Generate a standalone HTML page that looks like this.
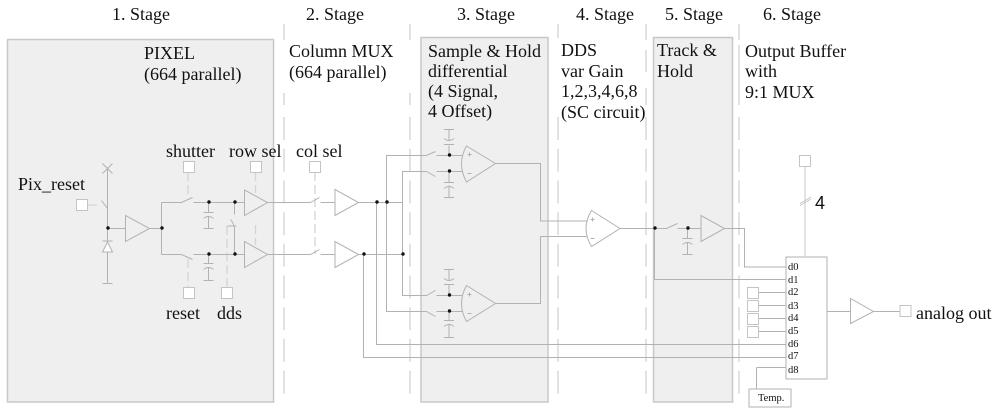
<!DOCTYPE html>
<html><head><meta charset="utf-8"><style>
html,body{margin:0;padding:0;background:#fff}
svg{display:block}
text{font-family:"Liberation Serif",serif;font-size:18px;fill:#111}
.s{font-size:10.5px}
</style></head><body>
<svg width="1000" height="414" viewBox="0 0 1000 414" xmlns="http://www.w3.org/2000/svg">
<g fill="#efefef" stroke="#c8c8c8" stroke-width="1.5">
<rect x="7.5" y="39.5" width="266" height="362.500"/>
<rect x="421" y="37.5" width="127" height="364.500"/>
<rect x="653.5" y="37.5" width="79" height="364.500"/>
</g>
<g stroke="#cfcfcf" stroke-width="1.2" fill="none">
<path d="M284 24V40M284 93V105M410 24V40M410 93V105M558 24V38M646 24V40M646 50V72M646 88V105M739 24V40M739 45V105"/>
<g stroke-dasharray="23 8.700">
<path d="M284 117V396M410 117V396M558 117V396M646 117V396M739 117V396"/>
</g>
</g>
<g stroke="#d4d4d4" stroke-width="1.3" fill="none" stroke-dasharray="9 4">
<path d="M88 205H101M188 172V197M188 259V287M227 287V226M255.500 172V193M255.500 225V245M315 172V254"/>
</g>
<path d="M805 166V256" stroke="#dedede" stroke-width="1.6"/>
<path d="M800 203.500L811 197M800 205.500L811 199" stroke="#c4c4c4" fill="none"/>
<g stroke="#b2b2b2" stroke-width="1" fill="none" transform="translate(-.5,.5)">
<path d="M103 163L113 173M113 163L103 173M108 168V283M103 283H113M103 240.500H113"/>
<path d="M102 200L108 208" />
<path d="M103 251.500H113L108 241.500Z" fill="#fff"/>
<path d="M108 228H126M126 215V241L150 228ZM150 228H162M162 202V254M162 202H182L193 197M194 202H245M162 254H182L193 259M194 254H245"/>
<path d="M245 189.500V215L268 202ZM245 241V267L268 254Z"/>
<path d="M209 202V212M204 212H214M204 218Q209 214 214 218M209 216V228M204 228H214"/>
<path d="M209 254V263M204 263H214M204 269Q209 265 214 269M209 267V280M204 280H214"/>
<path d="M235 254V228Q235 224 231 219M228 225.500H237M235 202V214"/>
<path d="M268 202H311L320 197M321 202H335M335.500 189V215L359 202ZM359 202H403"/>
<path d="M268 254H311L320 249M321 254H335M335.500 241V267L359 254ZM359 254H403"/>
<path d="M377 202V344H787M364 254V357H787M387 202V311H427L436 316M403 202V295H427L436 290"/>
<path d="M387 202V155H427L436 151M403 202V171H427L436 176"/>
<path d="M437 155H463M437 171H463M437 295H463M437 311H463"/>
<path d="M449.500 155V145M444.500 144H454.500M444.500 138Q449.500 142 454.500 138M449.500 140V129M444.500 129H454.500"/>
<path d="M449.500 171V182M444.500 182H454.500M444.500 188Q449.500 184 454.500 188M449.500 185V197M444.500 197H454.500"/>
<path d="M449.500 295V284M444.500 284H454.500M444.500 278Q449.500 282 454.500 278M449.500 280V269M444.500 269H454.500"/>
<path d="M449.500 311V320M444.500 320H454.500M444.500 326Q449.500 322 454.500 326M449.500 323V337M444.500 337H454.500"/>
<path d="M467 145.500L496 163L467 181.500Q457 163 467 145.500Z"/>
<path d="M467 285L496 303L467 321Q457 303 467 285Z"/>
<path d="M468 154H472M470 152V156M468 173H472M468 294H472M470 292V296M468 313H472M591 219H595M593 217V221M591 238H595"/>
<path d="M496 163H541V220.500H587M496 303H541V236H587"/>
<path d="M592 210L620.500 228L592 246Q581 228 592 210Z"/>
<path d="M620.500 228H667L678 223M678 228H701.500M701.500 215V241L725 228ZM725 228H745V266.500H787"/>
<path d="M655 228V279H787"/>
<path d="M688 228V238M683 238H693M683 244Q688 240 693 244M688 242V254M683 254H693"/>
<rect x="786.500" y="256.500" width="41" height="122" fill="#fff"/>
<path d="M758 292H786M758 305H786M758 318H786M758 331H786M757 367H786M757 367V388"/>
<rect x="749.500" y="388.500" width="42" height="18" fill="#fff"/>
<path d="M828 311H851M851 298V323L874 311ZM874 311H900"/>
</g>
<g fill="#fff" stroke="#c4c4c4" stroke-width="1">
<rect x="76.500" y="199.500" width="11" height="11"/>
<rect x="183.500" y="161.500" width="11" height="11"/>
<rect x="250.500" y="161.500" width="11" height="11"/>
<rect x="183.500" y="287.500" width="11" height="11"/>
<rect x="221.500" y="287.500" width="11" height="11"/>
<rect x="309.500" y="161.500" width="11" height="11"/>
<rect x="799.500" y="155.500" width="11" height="11"/>
<rect x="747.500" y="287.500" width="11" height="11"/>
<rect x="747.500" y="300.500" width="11" height="11"/>
<rect x="747.500" y="313.500" width="11" height="11"/>
<rect x="747.500" y="326.500" width="11" height="11"/>
<rect x="900" y="305.500" width="11" height="11"/>
</g>
<g fill="#111">
<circle cx="108" cy="228" r="1.700"/><circle cx="162" cy="228" r="1.700"/>
<circle cx="209" cy="202" r="1.700"/><circle cx="235" cy="202" r="1.700"/>
<circle cx="209" cy="254" r="1.700"/><circle cx="235" cy="254" r="1.700"/>
<circle cx="377" cy="202" r="1.700"/><circle cx="387" cy="202" r="1.700"/>
<circle cx="364" cy="254" r="1.700"/><circle cx="403" cy="254" r="1.700"/>
<circle cx="449.500" cy="155" r="1.700"/><circle cx="449.500" cy="171" r="1.700"/>
<circle cx="449.500" cy="295" r="1.700"/><circle cx="449.500" cy="311" r="1.700"/>
<circle cx="655" cy="228" r="1.700"/><circle cx="688" cy="228" r="1.700"/>
</g>
<text x="112" y="20">1. Stage</text>
<text x="306" y="20">2. Stage</text>
<text x="457" y="20">3. Stage</text>
<text x="576" y="20">4. Stage</text>
<text x="665" y="20">5. Stage</text>
<text x="763" y="20">6. Stage</text>
<text x="144" y="59">PIXEL</text>
<text x="144" y="80">(664 parallel)</text>
<text x="289" y="57">Column MUX</text>
<text x="289" y="78">(664 parallel)</text>
<text x="428" y="57">Sample &amp; Hold</text>
<text x="428" y="77">differential</text>
<text x="428" y="97">(4 Signal,</text>
<text x="428" y="117">4 Offset)</text>
<text x="561" y="56">DDS</text>
<text x="561" y="77">var Gain</text>
<text x="561" y="97">1,2,3,4,6,8</text>
<text x="561" y="118">(SC circuit)</text>
<text x="657" y="56">Track &amp;</text>
<text x="657" y="77">Hold</text>
<text x="745" y="57">Output Buffer</text>
<text x="745" y="77">with</text>
<text x="745" y="98">9:1 MUX</text>
<text x="18" y="190">Pix_reset</text>
<text x="166" y="157">shutter</text>
<text x="229" y="157">row sel</text>
<text x="296" y="157">col sel</text>
<text x="166" y="319">reset</text>
<text x="217" y="319">dds</text>
<text x="815" y="209" style="font-family:'Liberation Sans',sans-serif">4</text>
<text x="916" y="319">analog out</text>
<text class="s" x="788" y="270">d0</text>
<text class="s" x="788" y="283">d1</text>
<text class="s" x="788" y="295">d2</text>
<text class="s" x="788" y="309">d3</text>
<text class="s" x="788" y="321">d4</text>
<text class="s" x="788" y="334">d5</text>
<text class="s" x="788" y="347">d6</text>
<text class="s" x="788" y="359">d7</text>
<text class="s" x="788" y="373">d8</text>
<text class="s" x="758" y="401">Temp.</text>
</svg>
</body></html>
